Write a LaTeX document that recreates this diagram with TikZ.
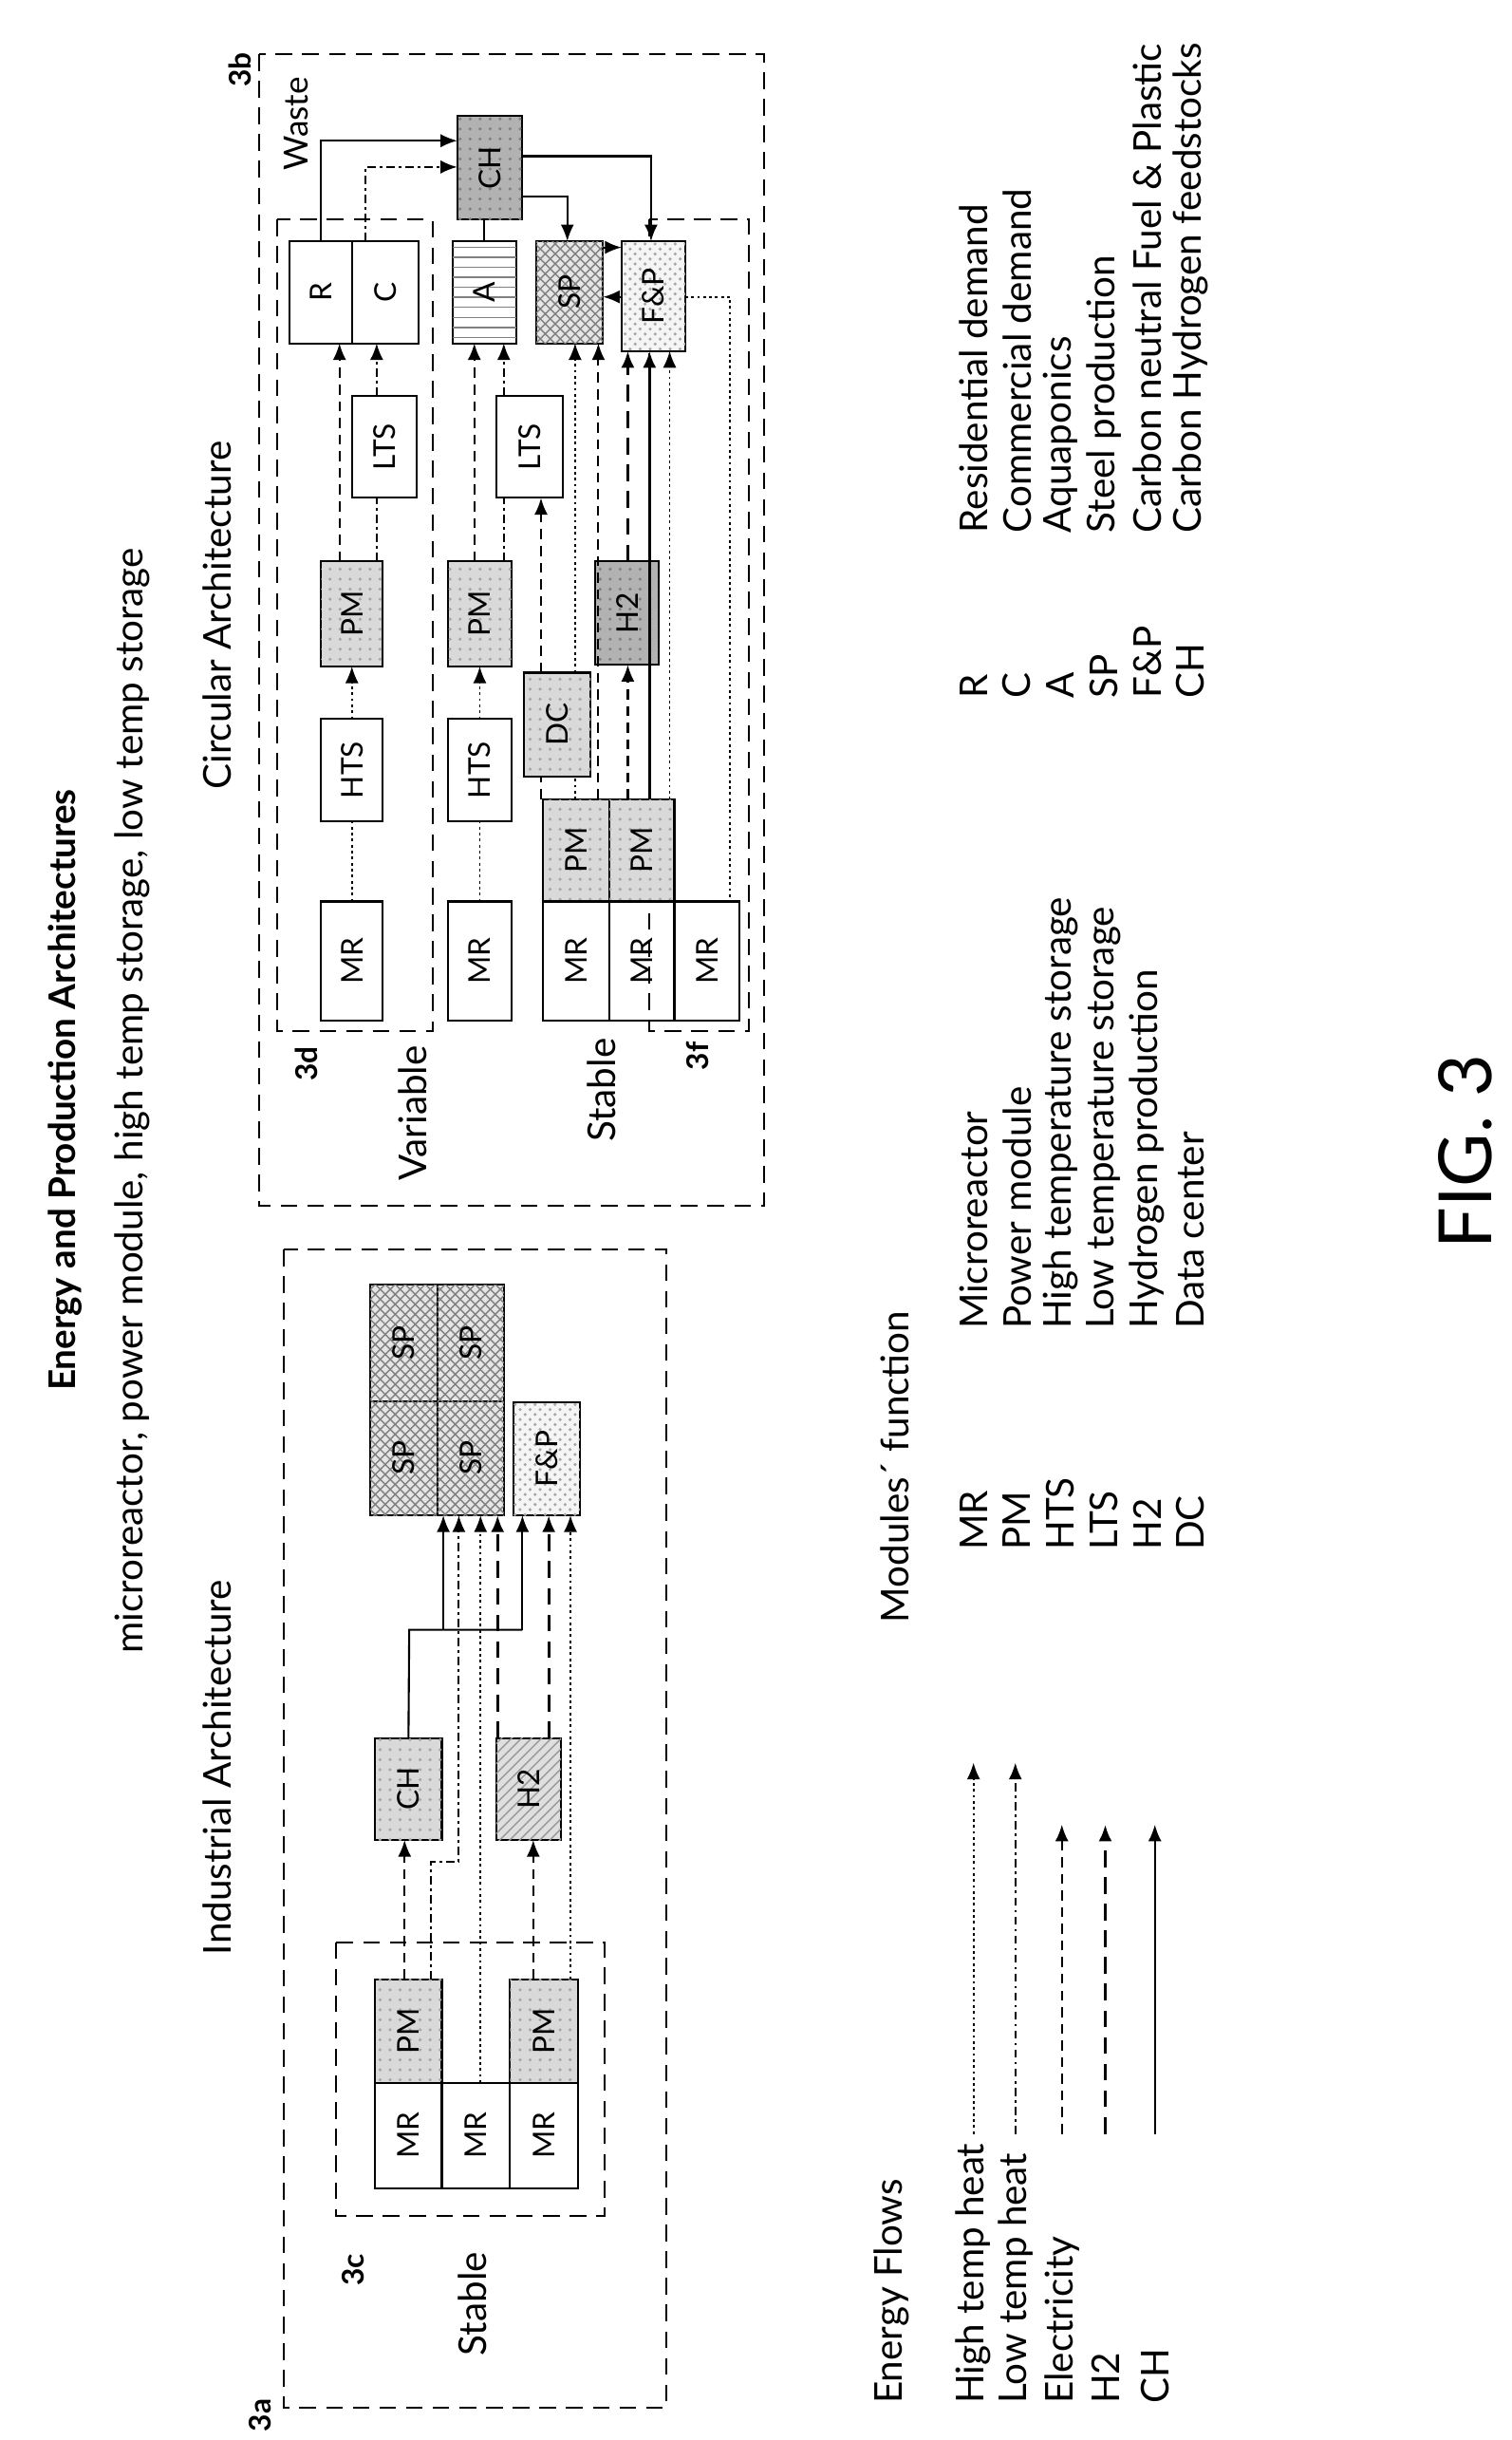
\documentclass[tikz,border=0pt]{standalone}
\usepackage{fontspec}
\setmainfont{Lato}
\usetikzlibrary{arrows.meta,patterns}
\begin{document}
\begin{tikzpicture}[x=0.01634cm,y=-0.01629cm,
  box/.style={draw,line width=0.6pt,inner sep=0,outer sep=0,font=\fontsize{9}{10}\selectfont},
  pm/.style={fill=gray!30,postaction={pattern=dots,pattern color=gray!70}},
  pmd/.style={fill=gray!60,postaction={pattern=dots,pattern color=gray}},
  hl/.style={fill=white,postaction={pattern=horizontal lines,pattern color=gray}},
  cross/.style={fill=gray!20,postaction={pattern=crosshatch,pattern color=gray}},
  fp/.style={fill=gray!8,postaction={pattern=crosshatch dots,pattern color=gray!70}},
  hatch/.style={fill=gray!25,postaction={pattern=north east lines,pattern color=gray!80}},
  grp/.style={draw,dash pattern=on 5pt off 3pt,line width=0.6pt},
  ht/.style={line width=0.5pt,dash pattern=on 0.8pt off 1pt},
  lt/.style={line width=0.6pt,dash pattern=on 2.5pt off 1.2pt on 0.8pt off 1.2pt},
  el/.style={line width=0.6pt,dash pattern=on 3pt off 2pt},
  hy/.style={line width=0.9pt,dash pattern=on 5pt off 3pt},
  chl/.style={line width=0.6pt},
  ar/.style={-{Latex[length=5pt,width=4pt]}},
  lab/.style={rotate=90,font=\fontsize{11.5}{14}\selectfont,inner sep=0},
  lw/.style={lab,anchor=west}]
\useasboundingbox (0,0) rectangle (975,1578);
\newcommand{\bx}[7][]{\node[box,#1,minimum width={(#5-#3)*0.01634cm},minimum height={(#6-#4)*0.01629cm}] (#2) at ({(#3+#5)/2},{(#4+#6)/2}) {\rotatebox{90}{#7}};}
\foreach \v in {207,219,226,236,243,261,264,278,286,296,306,310,312,321,325,337,344,349,354,366,368,371,386,405,419,420,432,471}{\coordinate (c\v) at (\v,0);}
% titles
\node[lab,font=\fontsize{11}{13}\selectfont\bfseries] (t1) at (42,705) {Energy and Production Architectures};
\node[lab] (t2) at (85,712) {microreactor, power module, high temp storage, low temp storage};
\node[lab] (t3) at (140,1143) {Industrial Architecture};
\node[lab] (t4) at (140,398) {Circular Architecture};
% group boxes
\draw[grp] (183,808) rectangle (430,1557);
\draw[grp] (217,1256) rectangle (390,1433);
\draw[grp] (167,35) rectangle (493,780);
\draw[grp] (179,142) rectangle (279,667);
\draw[grp] (419,142) rectangle (483,667);
\node[lab,font=\fontsize{9}{10}\selectfont\bfseries] (l3a) at (168,1562) {3a};
\node[lab,font=\fontsize{9}{10}\selectfont\bfseries] (l3c) at (228,1468) {3c};
\node[lab,font=\fontsize{9}{10}\selectfont\bfseries] (l3b) at (155,45) {3b};
\node[lab,font=\fontsize{9}{10}\selectfont\bfseries] (l3d) at (198,688) {3d};
\node[lab,font=\fontsize{9}{10}\selectfont\bfseries] (l3f) at (450,683) {3f};
\node[lab] (st1) at (305,1490) {Stable};
\node[lab] (va) at (266,720) {Variable};
\node[lab] (st2) at (388,705) {Stable};
\node[lab,font=\fontsize{10}{12}\selectfont] (ws) at (191,80) {Waste};
% industrial
\bx{iMRa}{242}{1347}{285}{1415}{MR}
\bx{iMRb}{285}{1347}{329}{1415}{MR}
\bx{iMRc}{329}{1347}{373}{1415}{MR}
\bx[pm]{iPMa}{242}{1280}{285}{1347}{PM}
\bx[pm]{iPMc}{329}{1280}{373}{1347}{PM}
\bx[pm]{iCH}{242}{1124}{285}{1190}{CH}
\bx[hatch]{iH2}{320}{1124}{362}{1190}{H2}
\bx[cross]{iSPa}{239}{831}{282}{906}{SP}
\bx[cross]{iSPb}{282}{831}{325}{906}{SP}
\bx[cross]{iSPc}{239}{906}{282}{980}{SP}
\bx[cross]{iSPd}{282}{906}{325}{980}{SP}
\bx[fp]{iFP}{331}{907}{374}{980}{F\&P}
\draw[el,ar] (c261|-iPMa.north) -- (c261|-iCH.south);
\coordinate (q1) at (278,1204); \coordinate (q2) at (296,1204);
\draw[lt,ar] (c278|-iPMa.north) -- (q1) -- (q2) -- (c296|-iSPd.south);
\draw[ht,ar] (c310|-iMRb.north) -- (c310|-iSPd.south);
\coordinate (j1) at (264,1054); \coordinate (j2) at (286,1054); \coordinate (j3) at (337,1054);
\draw[chl] (iCH.north) -- (j1) -- (j3);
\draw[chl,ar] (j2) -- (c286|-iSPd.south);
\draw[chl,ar] (j3) -- (c337|-iFP.south);
\draw[hy,ar] (c321|-iH2.north) -- (c321|-iSPd.south);
\draw[hy,ar] (c354|-iH2.north) -- (c354|-iFP.south);
\draw[el,ar] (c344|-iPMc.north) -- (c344|-iH2.south);
\draw[ht,ar] (c368|-iPMc.north) -- (c368|-iFP.south);
% circular
\bx{cMR1}{207}{583}{247}{660}{MR}
\bx{cHTS1}{207}{465}{247}{531}{HTS}
\bx[pm]{cPM1}{207}{363}{247}{431}{PM}
\bx{cLTS1}{227}{256}{269}{322}{LTS}
\bx{cR}{187}{156}{227}{222}{R}
\bx{cC}{227}{156}{270}{222}{C}
\bx{cMR2}{289}{583}{330}{660}{MR}
\bx{cHTS2}{289}{465}{330}{531}{HTS}
\bx[pm]{cPM2}{289}{363}{330}{431}{PM}
\bx{cLTS2}{320}{256}{363}{322}{LTS}
\bx[hl]{cA}{292}{156}{333}{222}{A}
\bx[pmd]{cCH}{295}{75}{337}{142}{CH}
\bx[cross]{cSP}{346}{156}{389}{222}{SP}
\bx[fp]{cFP}{401}{156}{442}{227}{F\&P}
\bx[pm]{cDC}{338}{435}{381}{502}{DC}
\bx[pmd]{cH2}{384}{363}{425}{430}{H2}
\bx[pm]{cPMs1}{350}{517}{393}{583}{PM}
\bx[pm]{cPMs2}{393}{517}{435}{583}{PM}
\bx{cMRs1}{350}{583}{393}{660}{MR}
\bx{cMRs2}{393}{583}{435}{660}{MR}
\bx{cMRs3}{435}{583}{477}{660}{MR}
\draw[ht] (cMR1.north) -- (cHTS1.south);
\draw[ht,ar] (cHTS1.north) -- (cPM1.south);
\draw[el,ar] (c219|-cPM1.north) -- (c219|-cR.south);
\draw[lt] (c243|-cPM1.north) -- (c243|-cLTS1.south);
\draw[lt,ar] (c243|-cLTS1.north) -- (c243|-cC.south);
\coordinate (w1) at (207,91); \coordinate (w2) at (236,108);
\coordinate (w3) at (366,127); \coordinate (w4) at (420,101);
\coordinate (w5) at (395,192); \coordinate (w6) at (395,160); \coordinate (w7) at (471,192);
\draw[chl,ar] (c207|-cR.north) -- (w1) -- (w1-|cCH.west);
\draw[lt,ar] (c236|-cC.north) -- (w2) -- (w2-|cCH.west);
\draw[chl] (c312|-cA.north) -- (c312|-cCH.south);
\draw[chl,ar] (cCH.east|-w3) -- (w3) -- (c366|-cSP.north);
\draw[chl,ar] (cCH.east|-w4) -- (w4) -- (c420|-cFP.north);
\draw[chl,ar] (cFP.west|-w5) -- (cSP.east|-w5);
\draw[chl,ar] (cSP.east|-w6) -- (cFP.west|-w6);
\draw[ht] (cFP.east|-w7) -- (w7) -- (c471|-cMRs3.north);
\draw[ht] (cMR2.north) -- (cHTS2.south);
\draw[ht,ar] (cHTS2.north) -- (cPM2.south);
\draw[el,ar] (c306|-cPM2.north) -- (c306|-cA.south);
\draw[lt] (c325|-cPM2.north) -- (c325|-cLTS2.south);
\draw[lt,ar] (c325|-cLTS2.north) -- (c325|-cA.south);
\draw[el] (c349|-cPMs1.north) -- (c349|-cDC.south);
\draw[el,ar] (c349|-cDC.north) -- (c349|-cLTS2.south);
\draw[ht] (c371|-cPMs1.north) -- (c371|-cDC.south);
\draw[ht,ar] (c371|-cDC.north) -- (c371|-cSP.south);
\draw[el,ar] (c386|-cPMs1.north) -- (c386|-cSP.south);
\draw[el,ar] (c405|-cPMs2.north) -- (c405|-cH2.south);
\draw[hy,ar] (c405|-cH2.north) -- (c405|-cFP.south);
\draw[chl,line width=0.9pt,ar] (c419|-cPMs2.north) -- (c419|-cFP.south);
\draw[ht,ar] (c432|-cPMs2.north) -- (c432|-cFP.south);
% legend
\node[lw] (ef) at (575,1555) {Energy Flows};
\node[lw] (e1) at (628,1555) {High temp heat};
\node[lw] (e2) at (655,1555) {Low temp heat};
\node[lw] (e3) at (685,1555) {Electricity};
\node[lw] (e4) at (713,1555) {H2};
\node[lw] (e5) at (745,1555) {CH};
\coordinate (a1) at (628,1380); \coordinate (b1) at (628,1140);
\coordinate (a2) at (655,1380); \coordinate (b2) at (655,1140);
\coordinate (a3) at (685,1380); \coordinate (b3) at (685,1180);
\coordinate (a4) at (713,1380); \coordinate (b4) at (713,1180);
\coordinate (a5) at (745,1380); \coordinate (b5) at (745,1180);
\draw[ht,ar] (a1) -- (b1);
\draw[lt,ar] (a2) -- (b2);
\draw[el,ar] (a3) -- (b3);
\draw[hy,ar] (a4) -- (b4);
\draw[chl,ar] (a5) -- (b5);
\node[lw] (mf) at (577,1050) {Modules´ function};
\foreach \i/\a/\d in {0/MR/Microreactor,1/PM/Power module,2/HTS/High temperature storage,3/LTS/Low temperature storage,4/H2/Hydrogen production,5/DC/Data center}{
  \node[lw] (ma\i) at (628+28*\i,1003) {\a};
  \node[lw] (md\i) at (628+28*\i,860) {\d};}
\foreach \i/\a/\d in {0/R/Residential demand,1/C/Commercial demand,2/A/Aquaponics,3/SP/Steel production,4/F\&P/Carbon neutral Fuel \& Plastic,5/CH/Carbon Hydrogen feedstocks}{
  \node[lw] (ra\i) at (628+28*\i,452) {\a};
  \node[lw] (rd\i) at (628+28*\i,345) {\d};}
\node[lab,font=\fontsize{22}{26}\selectfont] (fig) at (945,745) {FIG. 3};
\end{tikzpicture}
\end{document}
